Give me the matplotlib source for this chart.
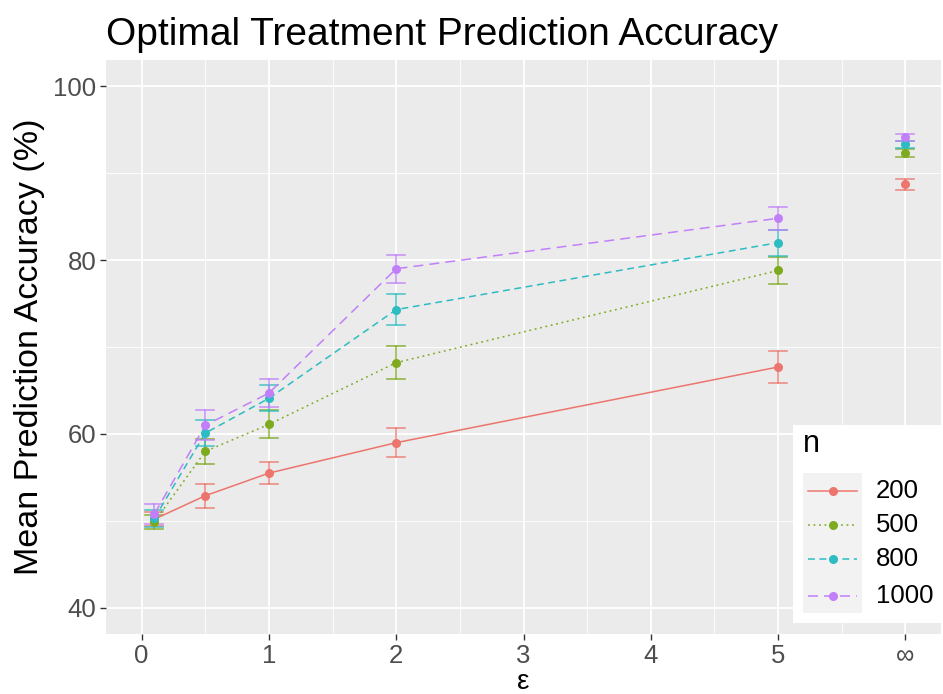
import matplotlib
matplotlib.use("Agg")
import matplotlib.pyplot as plt
from matplotlib.lines import Line2D
from matplotlib.patches import Rectangle

plt.rcParams['font.family'] = ['Liberation Sans', 'DejaVu Sans']

# ---- data ----
eps = [0.1, 0.5, 1, 2, 5]
eps_inf = 6
x_ticks = [0, 1, 2, 3, 4, 5, 6]
x_ticklabels = ['0', '1', '2', '3', '4', '5', '∞']
y_ticks = [40, 60, 80, 100]

series_names = ['200', '500', '800', '1000']
acc200 = [50.2, 52.9, 55.5, 59.0, 67.7]
err200 = [0.8, 1.4, 1.3, 1.7, 1.8]
acc500 = [49.9, 58.0, 61.1, 68.2, 78.8]
err500 = [0.8, 1.4, 1.6, 1.9, 1.6]
acc800 = [50.3, 60.1, 64.1, 74.3, 82.0]
err800 = [1.0, 1.5, 1.5, 1.8, 1.5]
acc1000 = [50.8, 61.0, 64.7, 79.0, 84.8]
err1000 = [1.2, 1.7, 1.6, 1.6, 1.3]
acc_inf = [88.7, 92.3, 93.3, 94.1]
err_inf = [0.6, 0.5, 0.4, 0.4]

colors = ['#EC756E', '#7DAA1E', '#2DBCC2', '#C17FFA']
dashes = [None, (1.2, 2.4), (4.5, 3.0), (6.5, 4.0)]

accs = [acc200, acc500, acc800, acc1000]
errs = [err200, err500, err800, err1000]

W, H = 943, 694
fig = plt.figure(figsize=(W / 100, H / 100), dpi=100)
fig.patch.set_facecolor('white')
ax = fig.add_axes([106 / W, (H - 634) / H, (941 - 106) / W, (634 - 60) / H])
ax.set_facecolor('#EBEBEB')

ax.set_xlim(-0.28, 6.28)
ax.set_ylim(37, 103)
ax.set_xticks(x_ticks)
ax.set_xticklabels(x_ticklabels)
ax.set_xticks([0.5, 1.5, 2.5, 3.5, 4.5, 5.5], minor=True)
ax.set_yticks(y_ticks)
ax.set_yticks([50, 70, 90], minor=True)
ax.grid(which='major', color='white', linewidth=1.3)
ax.grid(which='minor', color='white', linewidth=0.6)
ax.set_axisbelow(True)
for s in ax.spines.values():
    s.set_visible(False)
ax.tick_params(which='major', length=4, width=1, color='#333333',
               labelsize=18.5, labelcolor='#4D4D4D', pad=3)
ax.tick_params(which='minor', length=0)

cap = 0.07
for acc, err, col, dash, ai, ei in zip(accs, errs, colors, dashes, acc_inf, err_inf):
    ls = '-' if dash is None else (0, dash)
    ax.plot(eps, acc, color=col, linewidth=1.1, linestyle=ls, zorder=3)
    xs = list(eps) + [eps_inf]
    ys = list(acc) + [ai]
    es = list(err) + [ei]
    for x, y, e in zip(xs, ys, es):
        ax.plot([x, x], [y - e, y + e], color=col, linewidth=1.2, alpha=0.8, zorder=2)
        ax.plot([x - cap, x + cap], [y - e, y - e], color=col, linewidth=1.2, alpha=0.8, zorder=2)
        ax.plot([x - cap, x + cap], [y + e, y + e], color=col, linewidth=1.2, alpha=0.8, zorder=2)
    ax.plot(xs, ys, linestyle='none', marker='o', markersize=6.5, color=col,
            markeredgewidth=0, zorder=4)

ax.set_xlabel('ε', fontsize=20, labelpad=1)
ax.set_ylabel('Mean Prediction Accuracy (%)', fontsize=24.5, labelpad=6)
fig.text(106 / W, 1 - 35 / H, 'Optimal Treatment Prediction Accuracy',
         fontsize=28, ha='left', va='center')

# ---- legend (manual, ggplot style) ----
def fx(px):
    return px / W

def fy(py):
    return 1 - py / H

fig.patches.append(Rectangle((fx(793), fy(623)), fx(943) - fx(793), fy(425) - fy(623),
                             transform=fig.transFigure, facecolor='white',
                             edgecolor='none', zorder=5))
fig.patches.append(Rectangle((fx(803), fy(613)), fx(862) - fx(803), fy(473) - fy(613),
                             transform=fig.transFigure, facecolor='#F2F2F2',
                             edgecolor='none', zorder=6))
fig.text(fx(803), fy(444), 'n', fontsize=22, ha='left', va='center', zorder=7)
key_y = [491, 525, 559, 596]
for name, col, dash, ky in zip(series_names, colors, dashes, key_y):
    ls = '-' if dash is None else (0, dash)
    fig.add_artist(Line2D([fx(808), fx(857)], [fy(ky), fy(ky)], transform=fig.transFigure,
                          color=col, linewidth=1.1, linestyle=ls, zorder=7))
    fig.add_artist(Line2D([fx(832.5)], [fy(ky)], transform=fig.transFigure,
                          color=col, marker='o', markersize=6.5, markeredgewidth=0,
                          linestyle='none', zorder=8))
    fig.text(fx(876), fy(ky), name, fontsize=18.5, ha='left', va='center', zorder=8)

fig.savefig('out.png', dpi=100)
